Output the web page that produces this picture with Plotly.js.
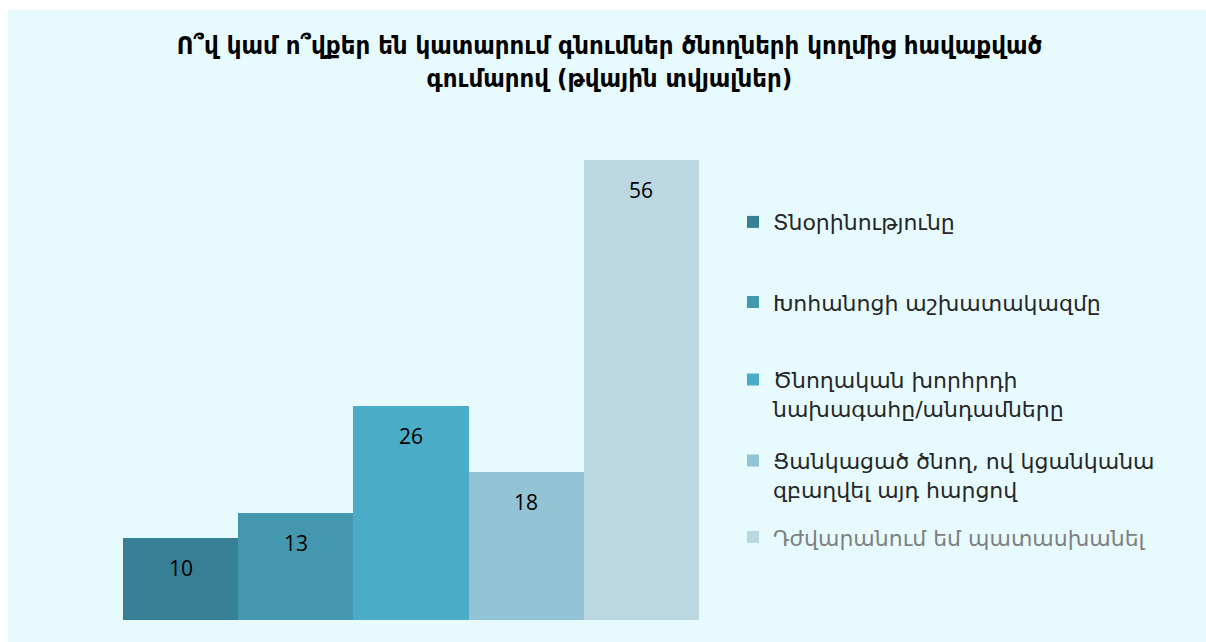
<!DOCTYPE html>
<html>
<head>
<meta charset="utf-8">
<script src="https://cdn.plot.ly/plotly-3.0.1.min.js"></script>
<style>
html,body{margin:0;padding:0;background:#ffffff;}
#chart{position:absolute;left:8px;top:10px;width:1198px;height:632px;}
</style>
</head>
<body>
<div id="chart"></div>
<script>
const categories = [
  "Տնօրինությունը",
  "Խոհանոցի աշխատակազմը",
  "Ծնողական խորհրդի<br>նախագահը/անդամները",
  "Ցանկացած ծնող, ով կցանկանա<br>զբաղվել այդ հարցով",
  "Դժվարանում եմ պատասխանել"
];
const values = [10, 13, 26, 18, 56];
const colors = ["#367F94", "#4398B0", "#4AACC6", "#93C4D5", "#BAD7E2"];
const legendTextColors = ["#262626", "#262626", "#262626", "#262626", "#7F7F7F"];
const legendY = [0.865, 0.691, 0.491, 0.315, 0.180];
const titleText = "Ո՞վ կամ ո՞վքեր են կատարում գնումներ ծնողների կողմից հավաքված<br>գումարով (թվային տվյալներ)";

const legendIds = ["legend", "legend2", "legend3", "legend4", "legend5"];

const traces = categories.map((c, i) => ({
  type: "bar",
  name: c,
  x: [i],
  y: [values[i]],
  width: 1,
  marker: {color: colors[i], line: {width: 0}},
  legend: legendIds[i],
  hoverinfo: "skip"
}));

const annotations = values.map((v, i) => ({
  x: i, y: v, xref: "x", yref: "y",
  text: String(v), showarrow: false,
  yshift: -30,
  font: {family: "Open Sans, Liberation Sans, sans-serif", size: 21, color: "#000000"}
}));

const layout = {
  width: 1198, height: 632,
  paper_bgcolor: "#E7FBFE",
  plot_bgcolor: "#E7FBFE",
  margin: {l: 115, r: 507, t: 150, b: 22},
  bargap: 0,
  barmode: "overlay",
  title: {
    text: "<b>" + titleText + "</b>",
    xref: "container", x: 0.502, xanchor: "center",
    yref: "container", y: 0.93, yanchor: "top",
    font: {family: "DejaVu Sans Condensed, DejaVu Sans, sans-serif", size: 25.5, color: "#000000"}
  },
  xaxis: {range: [-0.5, 4.5], showticklabels: false, showgrid: false, zeroline: false, showline: false, ticks: ""},
  yaxis: {range: [0, 56], showticklabels: false, showgrid: false, zeroline: false, showline: false, ticks: ""},
  annotations: annotations,
  showlegend: true
};

legendIds.forEach((id, i) => {
  layout[id] = {
    x: 1.059, xanchor: "left",
    y: legendY[i], yanchor: "middle",
    bgcolor: "rgba(0,0,0,0)",
    borderwidth: 0,
    valign: "top",
    font: {family: "DejaVu Sans, sans-serif", size: 22, color: legendTextColors[i]}
  };
});

Plotly.newPlot("chart", traces, layout, {displayModeBar: false, staticPlot: true});
</script>
</body>
</html>
